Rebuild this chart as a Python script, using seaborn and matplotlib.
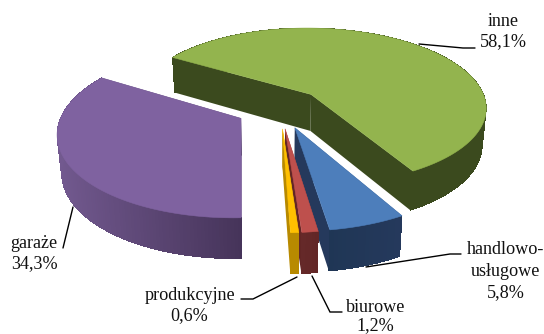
import numpy as np
import matplotlib
matplotlib.use("Agg")
import matplotlib.pyplot as plt
from matplotlib.patches import Polygon
from matplotlib.colors import to_rgb
import seaborn as sns

# data
categories = ["inne", "handlowo-\nusługowe", "biurowe", "produkcyjne", "garaże"]
values = [58.1, 5.8, 1.2, 0.6, 34.3]
value_labels = ["58,1%", "5,8%", "1,2%", "0,6%", "34,3%"]

sns.set_theme(style="white")
plt.rcParams["font.family"] = ["Liberation Serif", "DejaVu Serif"]
top_colors = sns.color_palette(["#93B44E", "#4D7EBB", "#BE504D", "#FFC000", "#7F62A0"])
side_left = ["#3B4A1E", "#1F3655", "#662A2A", "#B88A00", "#72598F"]
side_right = ["#3B4A1E", "#25395C", "#622626", "#B88A00", "#46345A"]
explode = [0.25, 0.25, 0.25, 0.25, 0.25]
start_angle = 301.5

CX, CY, R, K, P, DEPTH = 280.0, 108.0, 177.0, 0.455, 0.155, 37.0

def project(u, v, z=0.0):
    w = 1.0 / (1.0 + P * v)
    zs = 1.0 - 0.02 * z
    return (CX + R * u * w * zs, CY - R * K * v * w + DEPTH * z * np.sqrt(w))

fig = plt.figure(figsize=(5.44, 3.34), dpi=100)
ax = fig.add_axes([0, 0, 1, 1])
ax.set_xlim(0, 544)
ax.set_ylim(334, 0)
ax.axis("off")

fracs = np.array(values) / np.sum(values)
edges = start_angle + 360 * np.concatenate([[0], np.cumsum(fracs)])
order = [0, 4, 1, 2, 3]

for i in order:
    a0, a1 = np.radians(edges[i]), np.radians(edges[i + 1])
    mid = (a0 + a1) / 2
    ox, oy = explode[i] * np.sin(mid), explode[i] * np.cos(mid)
    th = np.linspace(a0, a1, max(6, int(np.degrees(a1 - a0))))
    us, vs = ox + np.sin(th), oy + np.cos(th)
    l, r = np.array(to_rgb(side_left[i])), np.array(to_rgb(side_right[i]))
    apex_t, apex_b = project(ox, oy), project(ox, oy, 1)
    xs_arc = np.array([project(a, b)[0] for a, b in zip(us, vs)])
    xmin, xmax = xs_arc.min(), xs_arc.max()
    # radial walls
    for a, b, c in ((us[0], vs[0], l), (us[-1], vs[-1], r)):
        wall = [apex_t, project(a, b), project(a, b, 1), apex_b]
        ax.add_patch(Polygon(wall, closed=True, fc=c, ec="none"))
    # outer wall: overlapping strips, so that no seams show
    for j in range(len(th) - 1):
        k = min(j + 2, len(th) - 1)
        t = (xs_arc[j] - xmin) / max(xmax - xmin, 1e-6)
        c = l + (r - l) * t
        strip = [project(us[j], vs[j]), project(us[k], vs[k]),
                 project(us[k], vs[k], 1), project(us[j], vs[j], 1)]
        ax.add_patch(Polygon(strip, closed=True, fc=c, ec="none", antialiased=False))
    top = [apex_t] + [project(a, b) for a, b in zip(us, vs)]
    ax.add_patch(Polygon(top, closed=True, fc=top_colors[i], ec=top_colors[i], lw=0.4))

txt = dict(fontsize=13.1, color="#111111", ha="center", va="center", linespacing=1.0)
ax.text(503, 21, categories[0], **txt)
ax.text(503, 42, value_labels[0], **txt)
ax.text(505.5, 250, "handlowo-", **txt)
ax.text(505.5, 272, "usługowe", **txt)
ax.text(505.5, 293, value_labels[1], **txt)
ax.text(376, 307, categories[2], **txt)
ax.text(375, 326, value_labels[2], **txt)
ax.text(189.5, 295, categories[3], **txt)
ax.text(189, 316, value_labels[3], **txt)
ax.text(34, 243, categories[4], **txt)
ax.text(34, 264, value_labels[4], **txt)

leaders = [
    ([419, 463, 475], [44, 48, 48]),
    ([366, 450, 461], [267, 254, 254]),
    ([312, 330, 342], [276, 312, 312]),
    ([297, 253, 241], [277, 299, 299]),
    ([73, 63], [207, 248]),
]
for xs, ys in leaders:
    ax.plot(xs, ys, color="black", lw=1.0, solid_joinstyle="miter", zorder=5)

fig.savefig("out.png", dpi=100, facecolor="white")
